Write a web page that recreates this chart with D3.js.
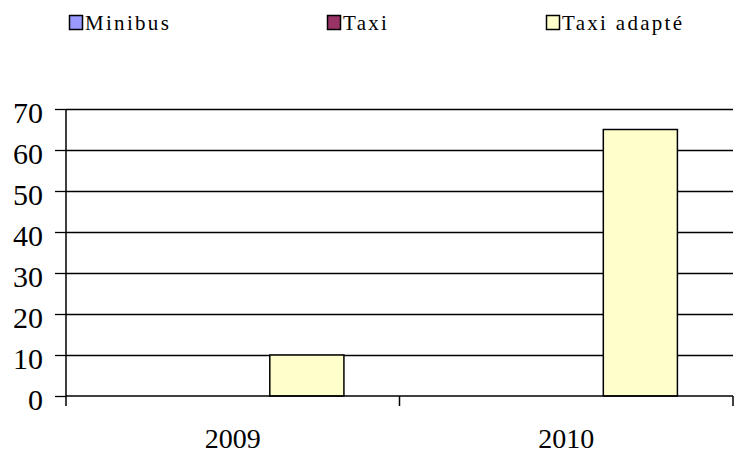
<!DOCTYPE html>
<html>
<head>
<meta charset="utf-8">
<script src="https://cdn.jsdelivr.net/npm/d3@7"></script>
<style>
  body { margin: 0; background: #fff; }
</style>
</head>
<body>
<div id="chart"></div>
<script>
"use strict";

var categories = ['2009', '2010'];
var seriesNames = ['Minibus', 'Taxi', 'Taxi adapté'];
var seriesColors = ['#9999FF', '#993366', '#FFFFCC'];
// values per series, one per category
var minibus = [0, 0];
var taxi = [0, 0];
var taxiAdapte = [10, 65];
var yTicks = [0, 10, 20, 30, 40, 50, 60, 70];

var seriesValues = [minibus, taxi, taxiAdapte];

var width = 741, height = 460;
var plot = { left: 66, right: 733, top: 109, bottom: 396 };

function textStyle(size, extra) {
  return "font-family:'Liberation Serif';font-size:" + size + "px;fill:#000;" + (extra || '');
}

var svg = d3.select('#chart').append('svg')
  .attr('width', width)
  .attr('height', height);

var y = d3.scaleLinear().domain([0, 70]).range([plot.bottom, plot.top]);
var x0 = d3.scaleBand().domain(categories).range([plot.left, plot.right]).padding(0);
var x1 = d3.scaleBand().domain(seriesNames).range([0, x0.bandwidth()])
  .paddingInner(0).paddingOuter(0.75);

//gridlines
svg.append('g').selectAll('line').data(yTicks.slice(1)).enter().append('line')
  .attr('x1', plot.left).attr('x2', plot.right)
  .attr('y1', function(d) { return Math.round(y(d)) + 0.5; })
  .attr('y2', function(d) { return Math.round(y(d)) + 0.5; })
  .attr('stroke', '#000').attr('stroke-width', 1.3);

//bars
var rows = [];
categories.forEach(function(cat, i) {
  seriesNames.forEach(function(name, j) {
    rows.push({ cat: cat, series: name, value: seriesValues[j][i], color: seriesColors[j] });
  });
});

svg.append('g').selectAll('rect').data(rows.filter(function(d) { return d.value > 0; }))
  .enter().append('rect')
  .attr('x', function(d) { return x0(d.cat) + x1(d.series); })
  .attr('y', function(d) { return y(d.value); })
  .attr('width', x1.bandwidth())
  .attr('height', function(d) { return y(0) - y(d.value); })
  .attr('fill', function(d) { return d.color; })
  .attr('stroke', '#000').attr('stroke-width', 1.5);

//y axis
var yAxis = d3.axisLeft(y).tickValues(yTicks).tickSize(11).tickPadding(12);
var gy = svg.append('g').attr('transform', 'translate(' + plot.left + ',0)').call(yAxis);
gy.attr('font-family', null).attr('font-size', null);
gy.select('.domain').attr('d', 'M0,' + plot.top + 'V' + plot.bottom).attr('stroke-width', 1.5);
gy.selectAll('.tick line').attr('stroke-width', 1.3);
gy.selectAll('text')
  .attr('dy', '0.46em')
  .attr('fill', null)
  .attr('style', textStyle(30));

//x axis: ticks sit on category boundaries
var gx = svg.append('g').attr('transform', 'translate(0,' + plot.bottom + ')');
gx.append('line').attr('x1', plot.left).attr('x2', plot.right)
  .attr('stroke', '#000').attr('stroke-width', 1.5);
var bounds = categories.map(function(c) { return x0(c); }).concat([plot.right]);
gx.selectAll('.xtick').data(bounds).enter().append('line')
  .attr('x1', function(d) { return d; }).attr('x2', function(d) { return d; })
  .attr('y1', 0).attr('y2', 10)
  .attr('stroke', '#000').attr('stroke-width', 1.5);
gx.selectAll('.xlabel').data(categories).enter().append('text')
  .attr('x', function(d) { return x0(d) + x0.bandwidth() / 2; })
  .attr('y', 52)
  .attr('text-anchor', 'middle')
  .attr('style', textStyle(28))
  .text(function(d) { return d; });

//legend
var legendX = [69, 327, 546];
var legend = svg.append('g').selectAll('g').data(seriesNames).enter().append('g')
  .attr('transform', function(d, i) { return 'translate(' + legendX[i] + ',15)'; });
legend.append('rect')
  .attr('x', 0.5).attr('y', 0.5)
  .attr('width', 13).attr('height', 14)
  .attr('fill', function(d, i) { return seriesColors[i]; })
  .attr('stroke', '#000').attr('stroke-width', 1.5);
legend.append('text')
  .attr('x', 16).attr('y', 15)
  .attr('style', textStyle(21, 'letter-spacing:2.3px;'))
  .text(function(d) { return d; });
</script>
</body>
</html>
